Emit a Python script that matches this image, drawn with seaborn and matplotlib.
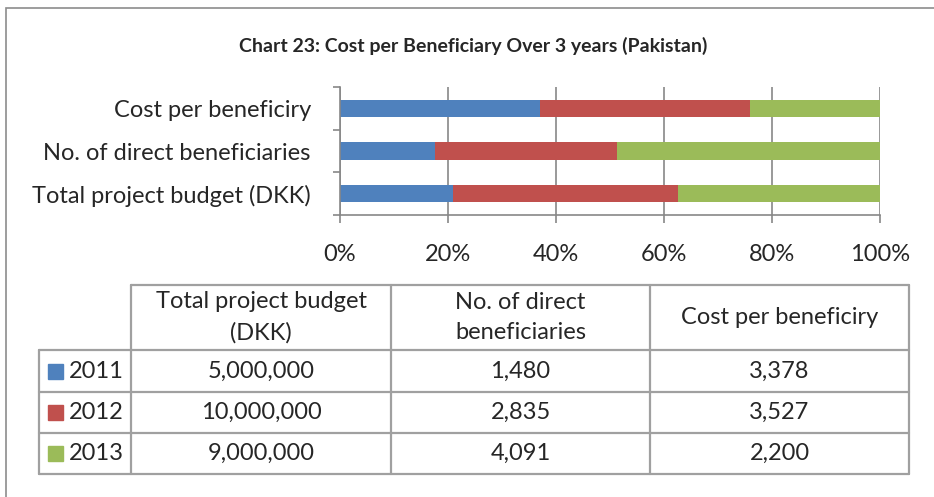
import numpy as np
import pandas as pd
import matplotlib.pyplot as plt
import seaborn as sns
from matplotlib.patches import Rectangle

sns.set_style("white")
plt.rcParams['font.family'] = ['Lato', 'DejaVu Sans']

# =========================
# DATA
# =========================
years = ["2011", "2012", "2013"]
metrics = ["Total project budget (DKK)", "No. of direct beneficiaries", "Cost per beneficiry"]
header_labels = ["Total project budget\n(DKK)", "No. of direct\nbeneficiaries", "Cost per beneficiry"]
budget = [5000000, 10000000, 9000000]
beneficiaries = [1480, 2835, 4091]
cost_per = [3378, 3527, 2200]
colors = ["#4F81BD", "#C0504D", "#9BBB59"]
title = "Chart 23: Cost per Beneficiary Over 3 years (Pakistan)"

df = pd.DataFrame({metrics[0]: budget, metrics[1]: beneficiaries, metrics[2]: cost_per}, index=years)

# share of each year per metric, stacked to 100%
pct = df / df.sum() * 100
cum = pct.cumsum()
order = metrics[::-1]  # Cost per beneficiry on top

FS = 17

fig = plt.figure(figsize=(9.34, 4.97), dpi=100)

# outer chart frame
fig.patches.append(Rectangle((6 / 934, -0.2), 1.2, 1.2 - 8 / 497, transform=fig.transFigure,
                             fill=False, edgecolor="#8c8c8c", lw=1.2))

fig.text(473 / 934, 1 - 46 / 497, title, ha="center", va="center", fontsize=14, fontweight="bold")

# =========================
# STACKED BARS
# =========================
ax = fig.add_axes([340 / 934, (497 - 215) / 497, 540 / 934, 128 / 497])
for i in range(len(years) - 1, -1, -1):
    plot_df = pd.DataFrame({"metric": order, "value": [cum.loc[years[i], m] for m in order]})
    sns.barplot(data=plot_df, x="value", y="metric", order=order, color=colors[i],
                saturation=1, width=0.4, linewidth=0, errorbar=None, ax=ax)

ax.set_xlim(0, 100)
ax.set_ylim(2.5, -0.5)
ax.set_xticks(np.arange(0, 101, 20))
ax.set_xticklabels([f"{t}%" for t in range(0, 101, 20)], fontsize=FS)
ax.set_yticks(range(len(order)))
ax.set_yticklabels(order, fontsize=FS)
ax.set_yticks([-0.5, 0.5, 1.5, 2.5], minor=True)
ax.set_xlabel("")
ax.set_ylabel("")
ax.grid(axis="x", color="#878787", lw=1.2)
ax.set_axisbelow(True)
for s in ["top", "right"]:
    ax.spines[s].set_visible(False)
for s in ["left", "bottom"]:
    ax.spines[s].set_color("#878787")
    ax.spines[s].set_linewidth(1.2)
ax.tick_params(axis="y", which="major", length=0, pad=21)
ax.tick_params(axis="y", which="minor", length=5, color="#878787", width=1.2, direction="out", left=True)
ax.tick_params(axis="x", length=6, color="#878787", width=1.2, direction="out", pad=15, bottom=True)

# =========================
# DATA TABLE
# =========================
tax = fig.add_axes([39 / 934, (497 - 474) / 497, 871 / 934, 189 / 497])
tax.set_xlim(0, 871)
tax.set_ylim(189, 0)
tax.axis("off")

col_x = [0, 92, 352, 611, 870]
row_y = [0, 65, 107, 148, 189]
line_kw = dict(color="#a0a0a0", lw=1.6, clip_on=False)

tax.plot([col_x[1], col_x[-1]], [row_y[0], row_y[0]], **line_kw)
for y in row_y[1:]:
    tax.plot([col_x[0], col_x[-1]], [y, y], **line_kw)
tax.plot([col_x[0], col_x[0]], [row_y[1], row_y[-1]], **line_kw)
for x in col_x[1:]:
    tax.plot([x, x], [row_y[0], row_y[-1]], **line_kw)

for j, h in enumerate(header_labels):
    tax.text((col_x[j + 1] + col_x[j + 2]) / 2, (row_y[0] + row_y[1]) / 2, h,
             ha="center", va="center", fontsize=FS, linespacing=1.55)

for i, yr in enumerate(years):
    yc = (row_y[i + 1] + row_y[i + 2]) / 2
    tax.add_patch(Rectangle((9, yc - 7.5), 15, 15, color=colors[i], clip_on=False))
    tax.text(30, yc, yr, ha="left", va="center", fontsize=FS)
    for j, m in enumerate(metrics):
        tax.text((col_x[j + 1] + col_x[j + 2]) / 2, yc, f"{df.loc[yr, m]:,}",
                 ha="center", va="center", fontsize=FS)

plt.savefig("out.png", dpi=100)
